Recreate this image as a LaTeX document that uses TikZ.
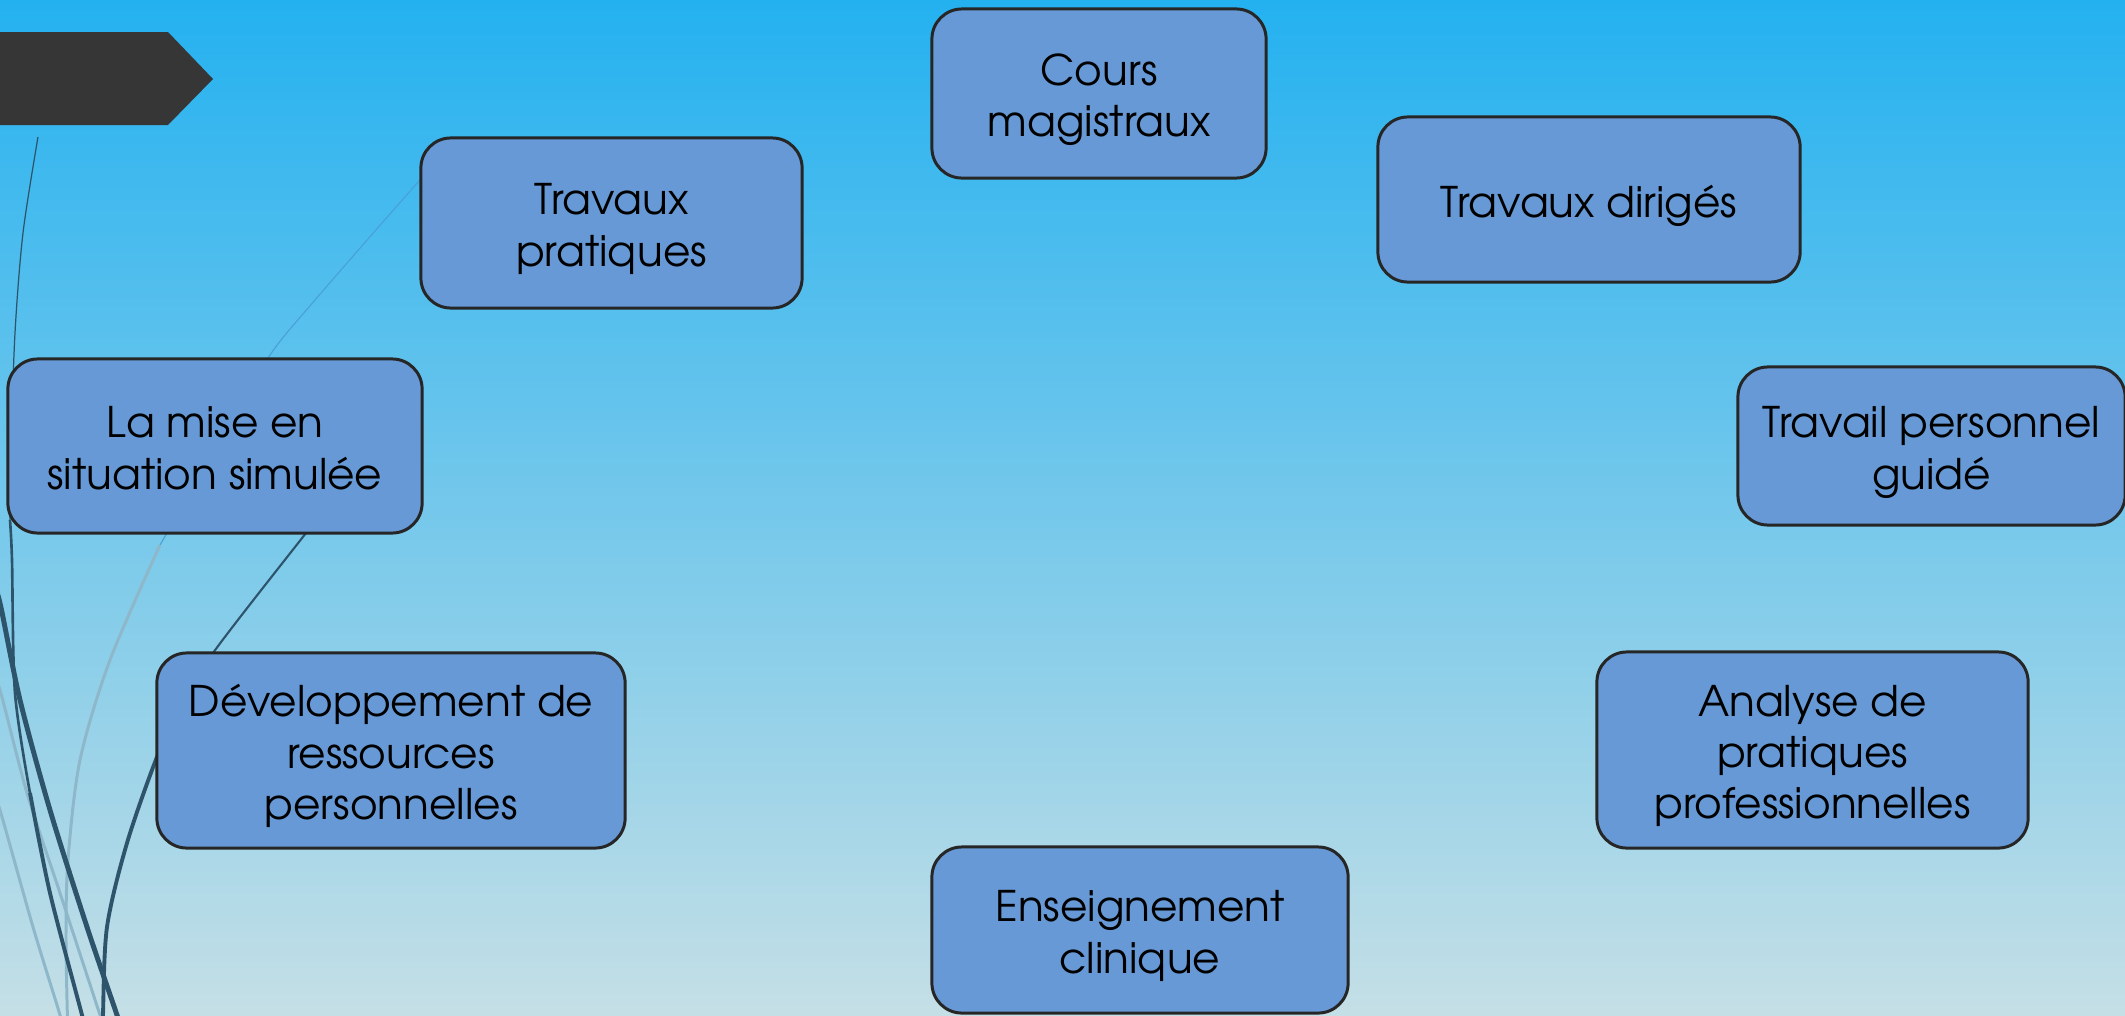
\documentclass[tikz,border=0pt]{standalone}
\usepackage{fontspec}
\setmainfont{texgyreadventor-regular.otf}
\definecolor{skytop}{RGB}{36,177,240}
\definecolor{skymid}{RGB}{125,196,236}
\definecolor{skybot}{RGB}{197,223,230}
\definecolor{boxfill}{RGB}{102,153,213}
\definecolor{boxline}{RGB}{38,38,38}
\definecolor{wispdark}{RGB}{46,84,108}
\definecolor{wispfaint}{RGB}{142,184,202}
\definecolor{wispthin}{RGB}{72,160,214}
\definecolor{flagdark}{RGB}{54,54,54}
% struts for first and last line of a box
\newcommand{\boxtop}{\rule{0pt}{13pt}}
\newcommand{\boxbot}{\rule[-3pt]{0pt}{3pt}}
\begin{document}
\begin{tikzpicture}[x=0.01cm, y=-0.01cm, box node/.style={rectangle,rounded corners=0.3cm,draw=boxline,fill=boxfill,line width=0.85pt,align=center,inner sep=0pt,font=\fontsize{12pt}{14.6pt}\selectfont}]
\useasboundingbox (0,0) rectangle (2125,1015);
\clip (0,0) rectangle (2125,1015);
% background
\shade [top color=skytop, middle color=skymid, bottom color=skybot] (0,0) rectangle (2125,1015);
% wisps
\draw [wispfaint, line width=0.85pt] plot[smooth] coordinates {(-8,675) (0,690) (27,793) (60,893) (100,1015) (108,1040)};
\draw [wispfaint, line width=0.85pt] plot[smooth] coordinates {(-8,790) (0,810) (33,927) (60,1015) (66,1040)};
\draw [wispthin, line width=0.3pt] plot[smooth] coordinates {(450,150) (420,180) (315,300) (268,358) (215,450) (160,545)};
\draw [wispfaint, line width=0.85pt] plot[smooth] coordinates {(160,545) (110,660) (80,760) (68,860) (66,940) (68,1040)};
\draw [wispdark, line width=0.35pt] plot[smooth] coordinates {(38,137) (23,233) (15,333) (11,450) (10,520)};
\draw [wispdark, line width=0.75pt] plot[smooth] coordinates {(10,520) (12,560) (15,693) (30,793)};
\draw [wispdark, line width=1.1pt] plot[smooth] coordinates {(30,793) (50,893) (82,1015) (88,1040)};
\draw [wispdark, line width=1.4pt] plot[smooth] coordinates {(-8,580) (0,603) (20,700) (50,810) (87,927) (117,1015) (125,1040)};
\draw [wispdark, line width=0.6pt] plot[smooth] coordinates {(332,500) (306,533) (213,653) (180,710)};
\draw [wispdark, line width=1.1pt] plot[smooth] coordinates {(180,710) (157,757) (127,843) (107,927) (103,1015) (103,1040)};
% title flag
\fill [flagdark] (-5,32) -- (168,32) -- (213,79) -- (168,125) -- (-5,125) -- cycle;
% boxes
\node [box node, minimum width=3.34cm, minimum height=1.69cm](cours) at (1099,93.5) {\boxtop Cours\\magistraux\boxbot};
\node [box node, minimum width=4.22cm, minimum height=1.65cm](dirig) at (1589,199.5) {\boxtop Travaux dirigés\boxbot};
\node [box node, minimum width=3.87cm, minimum height=1.58cm](perso) at (1931.5,446) {\boxtop Travail personnel\\guidé\boxbot};
\node [box node, minimum width=4.31cm, minimum height=1.96cm](analyse) at (1812.5,750) {\boxtop Analyse de\\pratiques\\professionnelles\boxbot};
\node [box node, minimum width=4.16cm, minimum height=1.66cm](clinique) at (1140,930) {\boxtop Enseignement\\clinique\boxbot};
\node [box node, minimum width=4.68cm, minimum height=1.95cm](devres) at (391,750.5) {\boxtop Développement de\\ressources\\personnelles\boxbot};
\node [box node, minimum width=4.14cm, minimum height=1.74cm](simul) at (215,446) {\boxtop La mise en\\situation simulée\boxbot};
\node [box node, minimum width=3.81cm, minimum height=1.70cm](tp) at (611.5,223) {\boxtop Travaux\\pratiques\boxbot};
\end{tikzpicture}
\end{document}
